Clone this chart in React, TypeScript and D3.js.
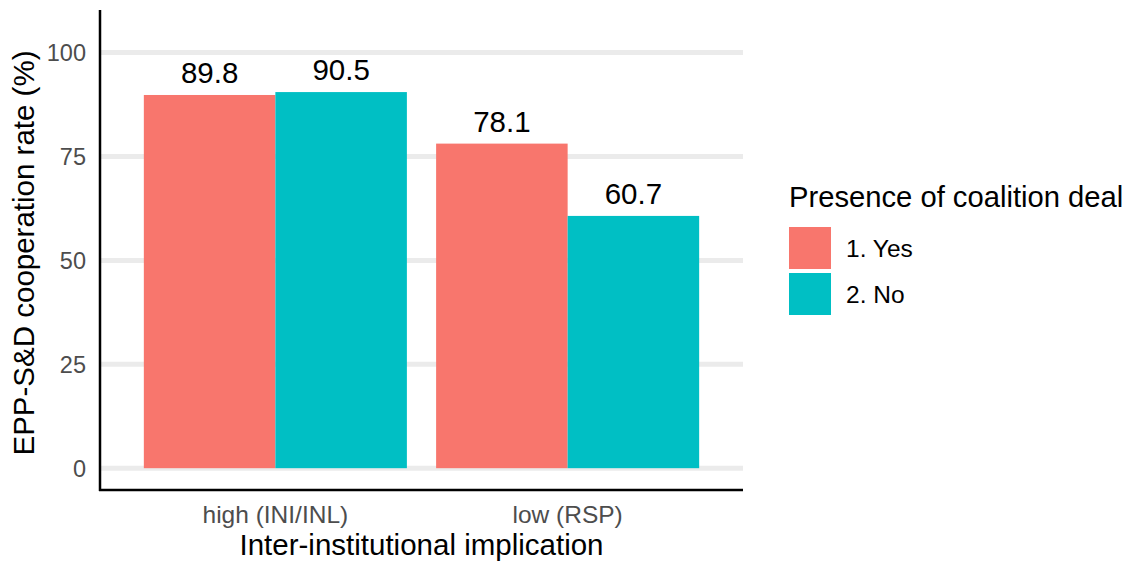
import { scaleBand, scaleLinear, scalePoint } from 'd3'

const categories = ['high (INI/INL)', 'low (RSP)']
const seriesLabels = ['1. Yes', '2. No']
const seriesColors = ['#F8766D', '#00BFC4']
const yesValues = [89.8, 78.1]
const noValues = [90.5, 60.7]
const yTicks = [0, 25, 50, 75, 100]

const font = '"Liberation Sans", Arial, sans-serif'

export default function App() {
	const width = 1134
	const height = 563
	const plot = { left: 100, right: 743, top: 10, bottom: 490 }

	const x0 = scalePoint<string>().domain(categories).range([plot.left, plot.right]).padding(0.6)
	const step = x0.step()
	const x1 = scaleBand<string>()
		.domain(seriesLabels)
		.range([-0.45 * step, 0.45 * step])
		.padding(0)
	const y = scaleLinear().domain([-5.25, 110.25]).range([plot.bottom, plot.top])

	const values = [yesValues, noValues]

	return (
		<svg
			width={width}
			height={height}
			style={{ position: 'absolute', left: 0, top: 0, background: '#fff' }}
			fontFamily={font}
		>
			{yTicks.map((tick) => (
				<g key={tick}>
					<line x1={plot.left} x2={plot.right} y1={y(tick)} y2={y(tick)} stroke="#EBEBEB" strokeWidth={5} />
					<text x={86} y={y(tick)} dy="0.36em" textAnchor="end" fontSize={23.5} fill="#4D4D4D">
						{tick}
					</text>
				</g>
			))}

			{categories.map((cat, i) => {
				const cx = x0(cat) ?? 0
				return (
					<g key={cat}>
						{seriesLabels.map((s, j) => {
							const v = values[j][i]
							const bx = cx + (x1(s) ?? 0)
							return (
								<g key={s}>
									<rect
										x={bx}
										y={y(v)}
										width={x1.bandwidth()}
										height={y(0) - y(v)}
										fill={seriesColors[j]}
									/>
									<text
										x={bx + x1.bandwidth() / 2}
										y={y(v) - 12}
										textAnchor="middle"
										fontSize={29.5}
										fill="#000"
									>
										{v.toFixed(1)}
									</text>
								</g>
							)
						})}
						<text x={cx} y={523} textAnchor="middle" fontSize={24.5} fill="#4D4D4D">
							{cat}
						</text>
					</g>
				)
			})}

			<line x1={plot.left} x2={plot.left} y1={plot.top} y2={plot.bottom + 1} stroke="#000" strokeWidth={2.5} />
			<line x1={plot.left - 1} x2={plot.right} y1={plot.bottom} y2={plot.bottom} stroke="#000" strokeWidth={2.5} />

			<text x={(plot.left + plot.right) / 2} y={555} textAnchor="middle" fontSize={29.5} fill="#000">
				Inter-institutional implication
			</text>
			<text
				transform={`translate(34, ${(plot.top + plot.bottom) / 2 + 3}) rotate(-90)`}
				textAnchor="middle"
				fontSize={29.5}
				fill="#000"
			>
				EPP-S&amp;D cooperation rate (%)
			</text>

			<g transform="translate(789, 0)">
				<text x={0} y={207} fontSize={29.2} fill="#000">
					Presence of coalition deal
				</text>
				{seriesLabels.map((s, j) => (
					<g key={s} transform={`translate(0, ${227 + j * 46})`}>
						<rect x={0} y={0} width={42} height={42} fill={seriesColors[j]} />
						<text x={57} y={21} dy="0.36em" fontSize={24.5} fill="#000">
							{s}
						</text>
					</g>
				))}
			</g>
		</svg>
	)
}
